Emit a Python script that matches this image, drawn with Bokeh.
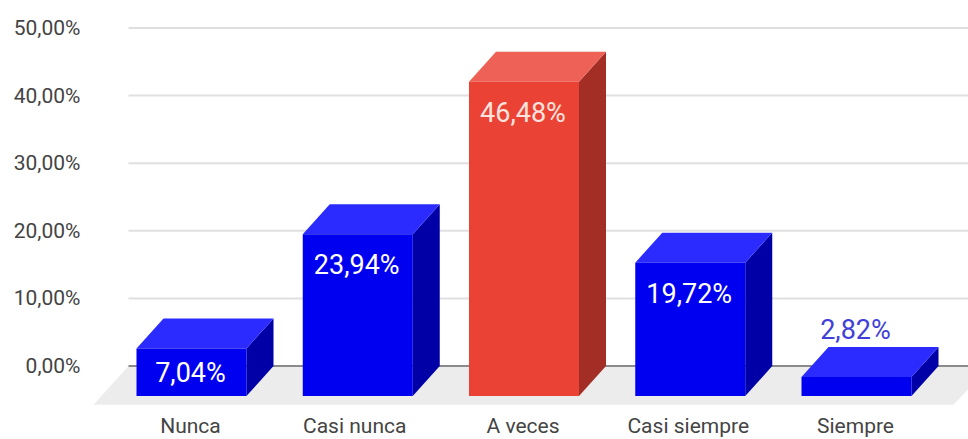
from bokeh.plotting import figure
from bokeh.models import ColumnDataSource, Range1d, FixedTicker
from bokeh.core.properties import value
from bokeh.embed import file_html
from bokeh.resources import INLINE

categories = ["Nunca", "Casi nunca", "A veces", "Casi siempre", "Siempre"]
values = [7.04, 23.94, 46.48, 19.72, 2.82]
value_labels = ["7,04%", "23,94%", "46,48%", "19,72%", "2,82%"]
y_ticks = [0, 10, 20, 30, 40, 50]
y_tick_labels = ["0,00%", "10,00%", "20,00%", "30,00%", "40,00%", "50,00%"]

# layout (pixels in the picture converted to data units)
STEP, X0, Y_UNIT, Y0 = 166.25, 191.0, 6.76, 365.5
px = lambda v: (v - X0) / STEP
py = lambda v: (Y0 - v) / Y_UNIT
DX, DY = 27 / STEP, 30 / Y_UNIT
W = 110 / STEP
BLUE = ("#0000f0", "#2b2bff", "#0000a6")
RED = ("#ea4335", "#ee6156", "#a32e25")
face = [RED if c == "A veces" else BLUE for c in categories]

p = figure(width=968, height=439, output_backend="svg", toolbar_location=None,
           x_range=Range1d(px(88), px(968)), y_range=Range1d(py(439), py(0)),
           min_border_left=88, min_border_right=0, min_border_top=0, min_border_bottom=0,
           outline_line_color=None)
p.grid.visible = False

# grid and floor
p.segment(x0=[px(128)] * 5, x1=[px(968)] * 5, y0=y_ticks[1:], y1=y_ticks[1:],
          line_color="#e0e0e0", line_width=2)
p.patch(x=[px(128), px(990), px(953), px(93)], y=[0, 0, -DY - 1.3, -DY - 1.3],
        fill_color="#ececec", line_color=None)
p.segment(x0=[px(128)], x1=[px(968)], y0=[0], y1=[0], line_color="#8a8a8a", line_width=2)

# bars
xs = list(range(len(values)))
left = [i - W / 2 for i in xs]
right = [i + W / 2 for i in xs]
front_top = [v - DY for v in values]
base = [-DY] * len(values)
src = ColumnDataSource(dict(left=left, right=right, top=front_top, bottom=base,
                            color=[f[0] for f in face]))
p.patches(xs=[[r, r + DX, r + DX, r] for r in right],
          ys=[[b, 0, v, t] for b, v, t in zip(base, values, front_top)],
          fill_color=[f[2] for f in face], line_color=None)
p.patches(xs=[[l, l + DX, r + DX, r] for l, r in zip(left, right)],
          ys=[[t, v, v, t] for v, t in zip(values, front_top)],
          fill_color=[f[1] for f in face], line_color=None)
p.quad(left="left", right="right", top="top", bottom="bottom", fill_color="color",
       line_color=None, source=src)

# value labels
lab_off = [25, 31, 31, 31, -47]
lab_col = ["#ffffff", "#ffffff", "#ffe3df", "#ffffff", "#4040d8"]
p.text(x=xs, y=front_top, text=value_labels, x_offset=[-1, -1, -1, -1, -1], y_offset=lab_off,
       text_font=value("Roboto"), text_font_size="27px", text_color=lab_col,
       text_align="center", text_baseline="middle")

# axes
yax = p.yaxis[0]
yax.ticker = FixedTicker(ticks=y_ticks)
yax.major_label_overrides = dict(zip(y_ticks, y_tick_labels))
yax.axis_line_color = None
yax.major_tick_line_color = None
yax.minor_tick_line_color = None
yax.major_tick_out = 0
yax.major_tick_in = 0
yax.major_label_standoff = 8
yax.major_label_text_font = "Roboto"
yax.major_label_text_font_size = "21px"
yax.major_label_text_color = "#444444"

label_shift = [-1, -3, -1, -2, -1]
tick_pos = [i + s / STEP for i, s in zip(xs, label_shift)]
xax = p.xaxis[0]
xax.ticker = FixedTicker(ticks=tick_pos)
xax.major_label_overrides = dict(zip(tick_pos, categories))
xax.fixed_location = py(405)
xax.axis_line_color = None
xax.major_tick_line_color = None
xax.minor_tick_line_color = None
xax.major_tick_out = 0
xax.major_tick_in = 0
xax.major_label_standoff = 8
xax.major_label_text_font = "Roboto"
xax.major_label_text_font_size = "21px"
xax.major_label_text_color = "#444444"

open("out.html", "w").write(file_html(p, INLINE))
